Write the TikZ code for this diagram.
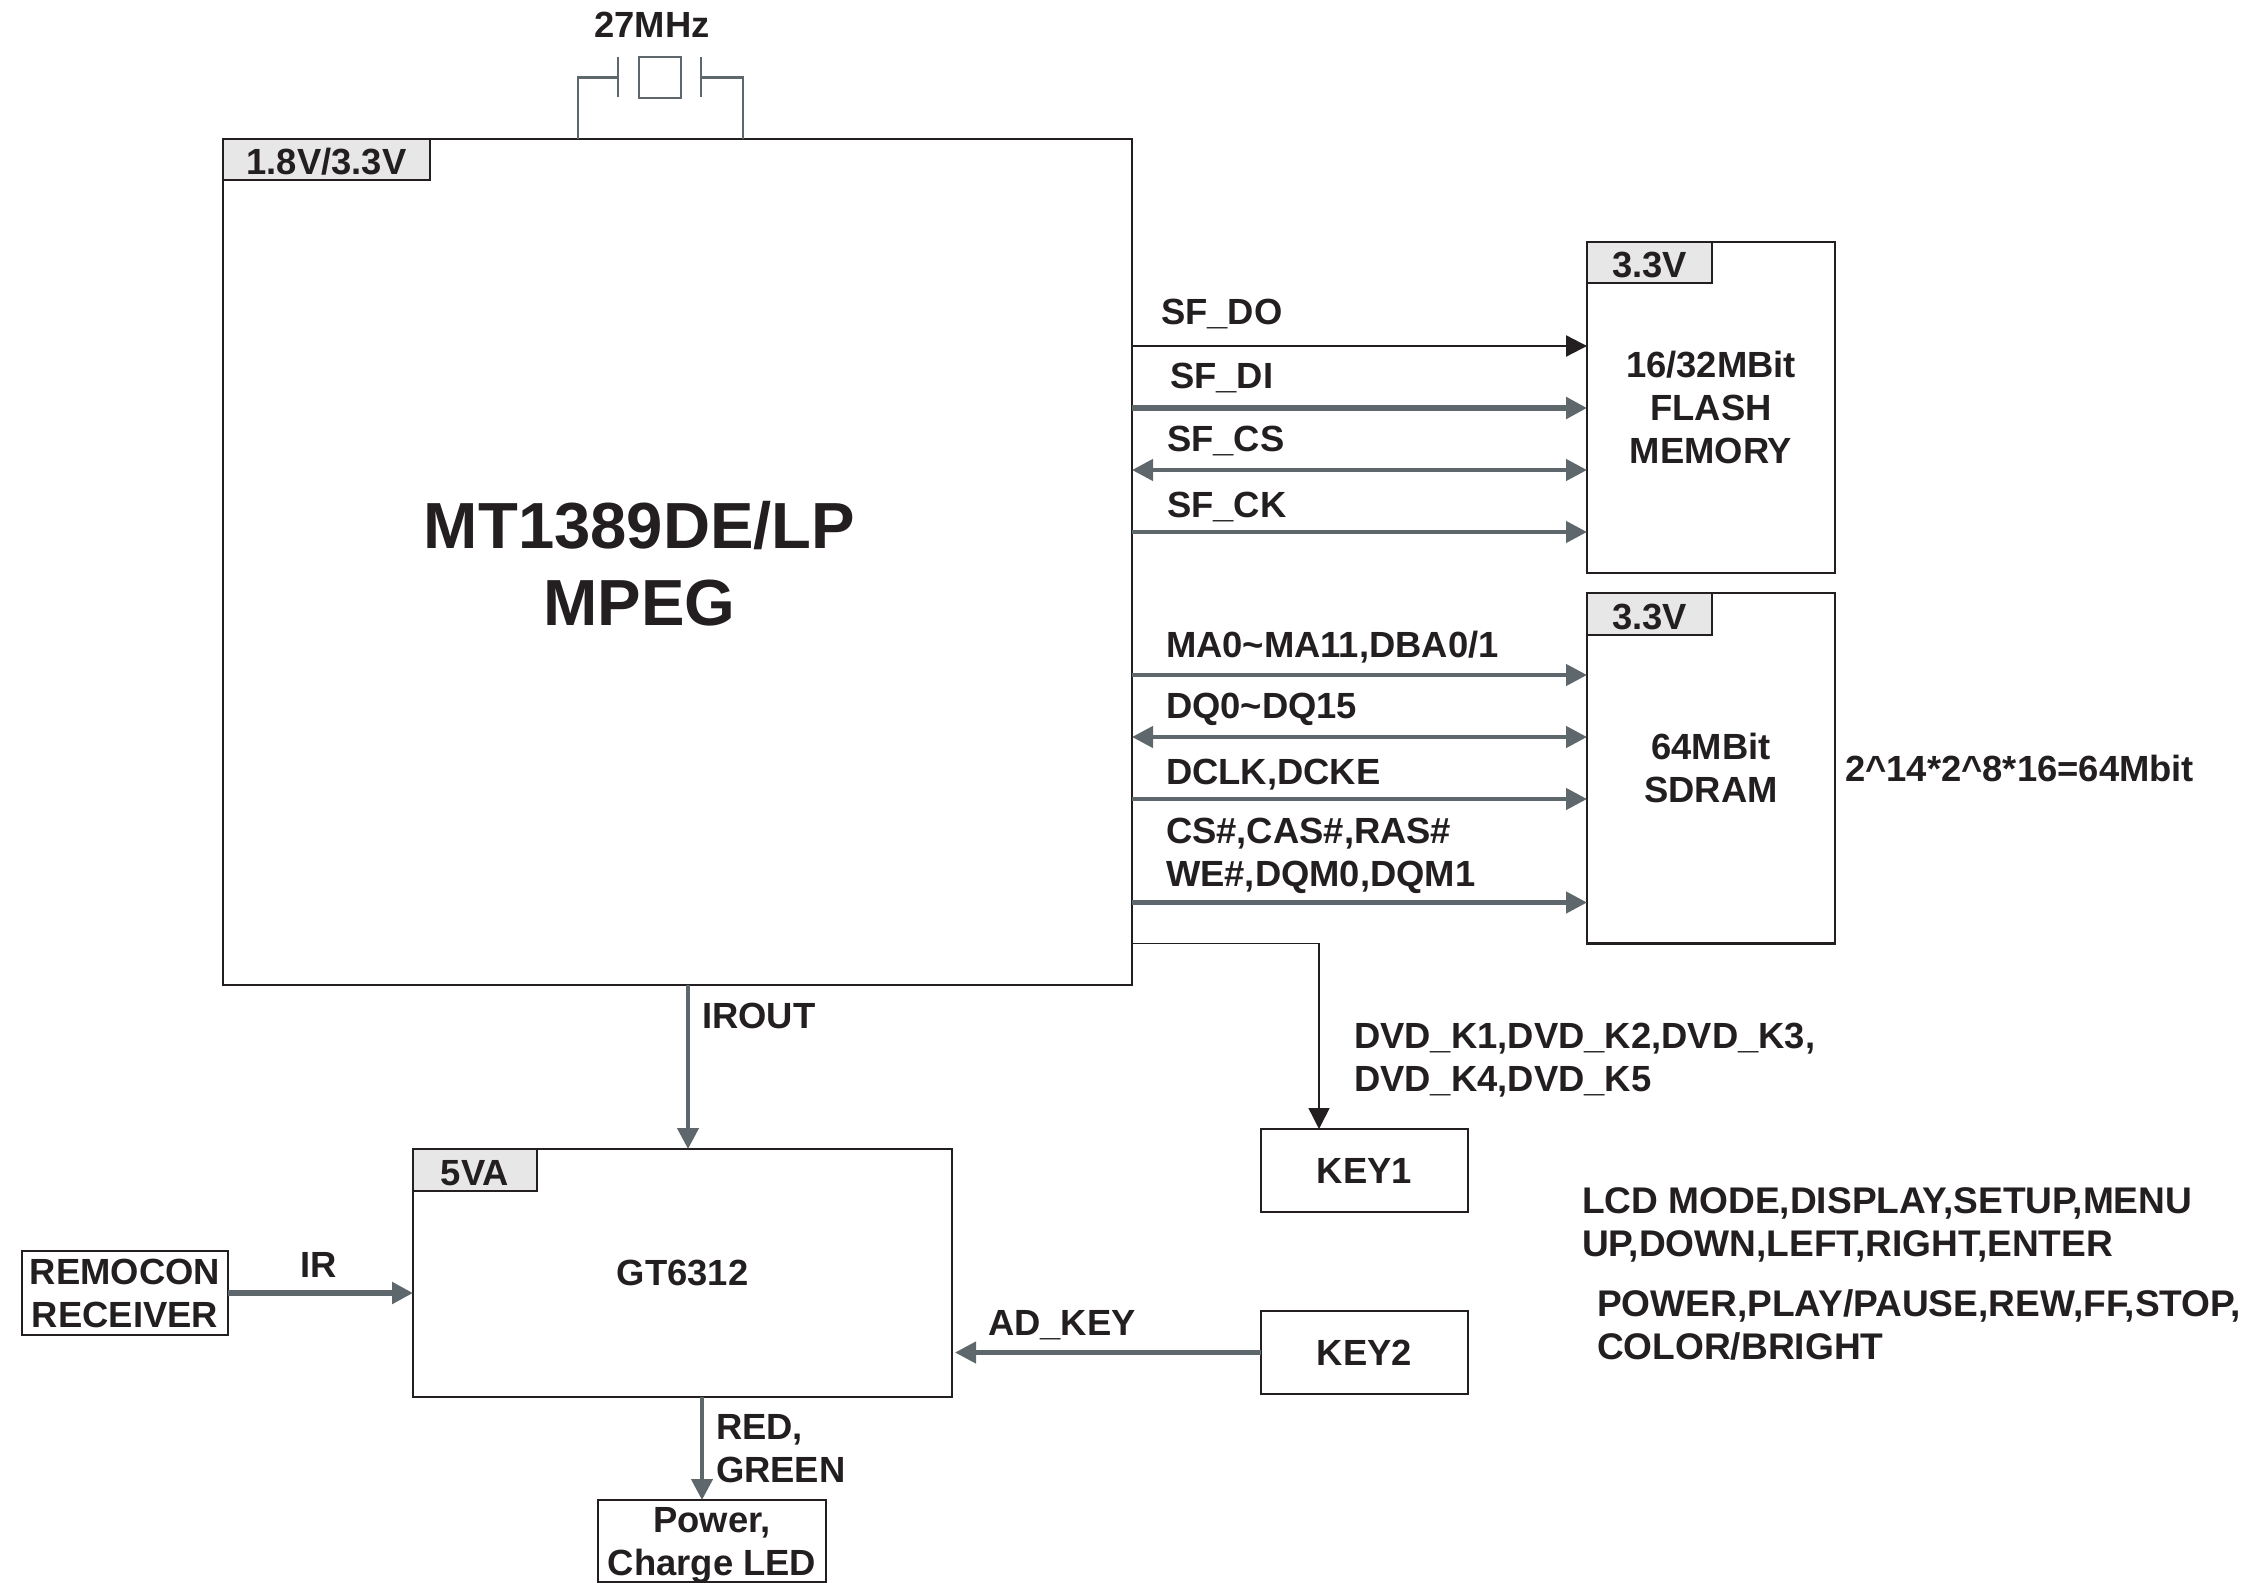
\documentclass[tikz,border=0pt]{standalone}
\usepackage{fontspec}
\setmainfont{Liberation Sans}
\usepackage{xcolor}
\usetikzlibrary{arrows.meta,positioning}
\definecolor{inkblack}{RGB}{35,31,32}
\definecolor{wiregray}{RGB}{94,104,108}
\definecolor{taggray}{RGB}{230,231,230}
\newcommand{\sigfont}{\fontsize{18.2}{21.5}\selectfont\bfseries}
\newcommand{\listfont}{\fontsize{18.55}{21.5}\selectfont\bfseries}

\begin{document}
\begin{tikzpicture}[
    text=inkblack,
    chipbox/.style={draw=inkblack, line width=1.4pt, outer sep=0pt, inner sep=0pt, align=center, font=\sigfont},
    tagbox/.style={draw=inkblack, line width=1.3pt, fill=taggray, outer sep=0pt, inner sep=0pt, text height=15pt, text depth=0pt, font=\sigfont},
    siglabel/.style={inner sep=0pt, outer sep=0pt, text height=13pt, text depth=0pt, font=\sigfont},
    multilabel/.style={inner sep=0pt, outer sep=0pt, align=left, font=\sigfont},
    chiptitle/.style={inner sep=0pt, outer sep=0pt, align=center, font=\fontsize{32.6}{38.5}\selectfont\bfseries},
    arr/.style={-{Triangle[length=10.5pt,width=10.5pt]}, line width=2.2pt, wiregray},
    thinarr/.style={-{Triangle[length=10.5pt,width=10.5pt]}, line width=1.1pt, inkblack},
    botharr/.style={{Triangle[length=10.5pt,width=10.5pt]}-{Triangle[length=10.5pt,width=10.5pt]}, line width=2.2pt, wiregray},
    xtalline/.style={line width=1.2pt, wiregray}
]

\useasboundingbox (0,0) rectangle (1126pt,-791.5pt);

\node[chipbox, minimum width=454.5pt, minimum height=423pt] (mpeg) at (338.75pt,-281pt) {};
\node[tagbox, minimum width=103.5pt, minimum height=20.5pt, below right=0pt and 0pt of mpeg.north west] (mpegtag) {1.8V/3.3V};
\node[chiptitle] (mpegname) at ([xshift=-19pt,yshift=-1pt]mpeg.center) {MT1389DE/LP\\MPEG};

% crystal
\node[draw=wiregray, line width=1.2pt, outer sep=0pt, inner sep=0pt, minimum width=21pt, minimum height=20.5pt, above=20.5pt of mpeg.north, xshift=-8.75pt] (xtal) {};
\node[siglabel, above=9.7pt of xtal, xshift=-4pt] (xtalname) {27MHz};
\coordinate[left=21pt of xtal.center] (platel);
\coordinate[right=20.5pt of xtal.center] (plater);
\coordinate[left=49.75pt of mpeg.north] (pinl);
\coordinate[right=32.75pt of mpeg.north] (pinr);
\draw[xtalline] ([yshift=10pt]platel) -- ([yshift=-10pt]platel);
\draw[xtalline] ([yshift=10pt]plater) -- ([yshift=-10pt]plater);
\draw[xtalline] (platel) -| (pinl);
\draw[xtalline] (plater) -| (pinr);

% flash
\node[chipbox, minimum width=124pt, minimum height=165.5pt, below right=51.5pt and 227.5pt of mpeg.north east] (flash) {16/32MBit\\FLASH\\MEMORY};
\node[tagbox, minimum width=62.5pt, minimum height=20.5pt, below right=0pt and 0pt of flash.north west] (flashtag) {3.3V};

\coordinate[below=52pt of flash.north west] (sfdo);
\coordinate[below=83pt of flash.north west] (sfdi);
\coordinate[below=114pt of flash.north west] (sfcs);
\coordinate[below=145pt of flash.north west] (sfck);
\coordinate (sfdostart) at (mpeg.east |- sfdo);
\coordinate (sfdistart) at (mpeg.east |- sfdi);
\coordinate (sfcsstart) at (mpeg.east |- sfcs);
\coordinate (sfckstart) at (mpeg.east |- sfck);

\node[siglabel, right=14.5pt of sfdostart, yshift=17pt] (sfdolabel) {SF\_DO};
\node[siglabel, right=19pt of sfdistart, yshift=16.5pt] (sfdilabel) {SF\_DI};
\node[siglabel, right=17.5pt of sfcsstart, yshift=16pt] (sfcslabel) {SF\_CS};
\node[siglabel, right=17.5pt of sfckstart, yshift=14pt] (sfcklabel) {SF\_CK};

% sdram
\node[chipbox, minimum width=124pt, minimum height=175.25pt, below=10pt of flash] (sdram) {64MBit\\SDRAM};
\node[tagbox, minimum width=62.5pt, minimum height=21pt, below right=0pt and 0pt of sdram.north west] (sdramtag) {3.3V};
\node[siglabel, right=5pt of sdram.east] (sdramcalc) {2\textasciicircum 14*2\textasciicircum 8*16=64Mbit};

\coordinate[below=41pt of sdram.north west] (maddr);
\coordinate[below=72pt of sdram.north west] (dqbus);
\coordinate[below=103pt of sdram.north west] (dclk);
\coordinate[below=154.75pt of sdram.north west] (csbus);
\coordinate (maddrstart) at (mpeg.east |- maddr);
\coordinate (dqbusstart) at (mpeg.east |- dqbus);
\coordinate (dclkstart) at (mpeg.east |- dclk);
\coordinate (csbusstart) at (mpeg.east |- csbus);

\node[siglabel, right=17pt of maddrstart, yshift=15.5pt] (maddrlabel) {MA0\textasciitilde MA11,DBA0/1};
\node[siglabel, right=17pt of dqbusstart, yshift=16pt] (dqbuslabel) {DQ0\textasciitilde DQ15};
\node[siglabel, right=17pt of dclkstart, yshift=14pt] (dclklabel) {DCLK,DCKE};
\node[multilabel, right=17pt of csbusstart, yshift=23.5pt] (csbuslabel) {CS\#,CAS\#,RAS\#\\WE\#,DQM0,DQM1};

% keys
\node[chipbox, minimum width=103.5pt, minimum height=41.5pt, below right=72pt and 64.5pt of mpeg.south east] (key1) {KEY1};
\node[chipbox, minimum width=103.5pt, minimum height=41.5pt, below=49.5pt of key1] (key2) {KEY2};
\coordinate[left=22.75pt of key1.north] (key1top);
\node[multilabel, above right=16pt and 46.5pt of key1.north west] (dvdkeys) {DVD\_K1,DVD\_K2,DVD\_K3,\\DVD\_K4,DVD\_K5};
\node[multilabel, font=\listfont, right=57pt of key1.east, yshift=-27pt] (key1list) {LCD MODE,DISPLAY,SETUP,MENU\\UP,DOWN,LEFT,RIGHT,ENTER};
\node[multilabel, font=\listfont, right=64.5pt of key2.east, yshift=13.8pt] (key2list) {POWER,PLAY/PAUSE,REW,FF,STOP,\\COLOR/BRIGHT};

% gt6312
\node[chipbox, minimum width=269.5pt, minimum height=124pt, below=82pt of mpeg.south, xshift=2.5pt] (gt) {GT6312};
\node[tagbox, minimum width=62pt, minimum height=21pt, below right=0pt and 0pt of gt.north west] (gttag) {5VA};
\node[chipbox, minimum width=103pt, minimum height=42pt, left=92.5pt of gt, yshift=-10pt] (remocon) {REMOCON\\RECEIVER};
\node[chipbox, minimum width=114pt, minimum height=41pt, below=51.5pt of gt, xshift=14.75pt] (power) {};
\node[multilabel, align=center] (powername) at ([yshift=-2pt]power.center) {Power,\\Charge LED};
\coordinate[right=5.25pt of mpeg.south] (irstart);
\coordinate[right=9.75pt of gt.south] (ledstart);
\coordinate[right=1.5pt of gt.east] (gtkeyin);

\node[siglabel, right=7pt of irstart, yshift=-15pt] (iroutlabel) {IROUT};
\node[siglabel, right=36pt of remocon.east, yshift=14.5pt] (irlabel) {IR};
\node[siglabel, right=18pt of gt.east, yshift=-24.5pt] (adkeylabel) {AD\_KEY};
\node[multilabel, right=7pt of ledstart, yshift=-26pt] (ledlabel) {RED,\\GREEN};

\draw[thinarr] (sfdostart) -- (sfdo);
\draw[arr, line width=2.7pt] (sfdistart) -- (sfdi);
\draw[botharr] (sfcsstart) -- (sfcs);
\draw[arr] (sfckstart) -- (sfck);

\draw[arr] (maddrstart) -- (maddr);
\draw[botharr] (dqbusstart) -- (dqbus);
\draw[arr] (dclkstart) -- (dclk);
\draw[arr] (csbusstart) -- (csbus);

\draw[thinarr, line width=0.7pt] (mpeg.east |- sdram.south) -| (key1top);
\draw[arr] (irstart) -- (irstart |- gt.north);
\draw[arr, line width=2.7pt] (remocon.east) -- (remocon.east -| gt.west);
\draw[arr] (key2.west) -- (key2.west -| gtkeyin);
\draw[arr] (ledstart) -- (ledstart |- power.north);

\end{tikzpicture}
\end{document}
